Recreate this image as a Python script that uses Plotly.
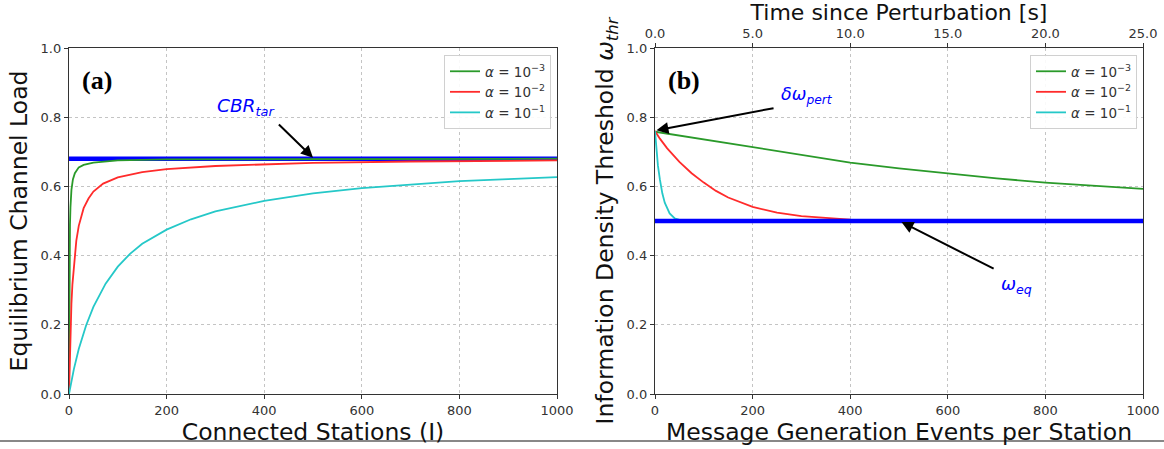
import plotly.graph_objects as go

# ---------------- data ----------------
# Panel (a): equilibrium channel load vs connected stations
a_x_green = [0, 0.5, 1, 2, 3, 5, 8, 12, 20, 30, 50, 100, 200, 1000]
a_y_green = [0.0, 0.26, 0.38, 0.49, 0.54, 0.59, 0.62, 0.638, 0.655, 0.662, 0.669, 0.675, 0.678, 0.68]

a_x_red = [0, 1, 2, 3, 5, 7, 10, 15, 20, 30, 40, 50, 70, 100, 150, 200, 300, 400, 500, 700, 1000]
a_y_red = [0.0, 0.075, 0.136, 0.186, 0.262, 0.317, 0.375, 0.443, 0.486, 0.537, 0.565, 0.585, 0.608, 0.626,
           0.641, 0.65, 0.659, 0.664, 0.668, 0.672, 0.675]

a_x_cyan = [0, 5, 10, 20, 35, 50, 75, 100, 125, 150, 200, 250, 300, 400, 500, 600, 700, 800, 900, 1000]
a_y_cyan = [0.0, 0.038, 0.072, 0.13, 0.198, 0.252, 0.319, 0.368, 0.405, 0.434, 0.475, 0.505, 0.528, 0.558,
            0.58, 0.595, 0.606, 0.615, 0.621, 0.627]

a_x_target = [0, 1000]
a_y_target = [0.68, 0.68]

# Panel (b): information density threshold vs message generation events
b_x_green = [0, 50, 100, 200, 300, 400, 500, 600, 700, 800, 900, 1000]
b_y_green = [0.758, 0.747, 0.735, 0.712, 0.69, 0.669, 0.652, 0.637, 0.623, 0.611, 0.601, 0.593]

b_x_red = [0, 10, 25, 50, 75, 100, 125, 150, 200, 250, 300, 350, 400, 450, 500, 700, 1000]
b_y_red = [0.76, 0.738, 0.71, 0.671, 0.638, 0.611, 0.587, 0.568, 0.541, 0.524, 0.514, 0.508, 0.504, 0.502,
           0.501, 0.5, 0.5]

b_x_cyan = [0, 3, 6, 10, 15, 20, 25, 30, 40, 50, 70, 1000]
b_y_cyan = [0.76, 0.70, 0.66, 0.62, 0.58, 0.553, 0.535, 0.522, 0.508, 0.503, 0.5, 0.5]

b_x_eq = [0, 1000]
b_y_eq = [0.5, 0.5]

time_range = [0, 25]
time_ticks = [0, 5, 10, 15, 20, 25]
x_ticks = [0, 200, 400, 600, 800, 1000]
y_ticks = [0, 0.2, 0.4, 0.6, 0.8, 1.0]
series_names = ["<i>α</i> = 10<sup>−3</sup>", "<i>α</i> = 10<sup>−2</sup>", "<i>α</i> = 10<sup>−1</sup>"]

# ---------------- styling ----------------
GREEN = "#2a9a2a"
RED = "#ff2b2b"
CYAN = "#25c8c8"
BLUE = "#0000ff"
FONT = "DejaVu Sans"
W, H = 1164, 449

def px_x(p):
    return p / W

def px_y(p):
    return (H - p) / H

ydom = [px_y(394), px_y(48)]
xdom_a = [px_x(69), px_x(557)]
xdom_b = [px_x(655), px_x(1143)]

fig = go.Figure()

def line(x, y, color, name, xa, ya, legend, show, width=1.8):
    fig.add_trace(go.Scatter(x=x, y=y, mode="lines", name=name,
                             line=dict(color=color, width=width),
                             xaxis=xa, yaxis=ya, legend=legend, showlegend=show))

fig.add_trace(go.Scatter(x=a_x_target, y=a_y_target, mode="lines", line=dict(color=BLUE, width=4.5),
                         xaxis="x", yaxis="y", showlegend=False))
line(a_x_green, a_y_green, GREEN, series_names[0], "x", "y", "legend", True)
line(a_x_red, a_y_red, RED, series_names[1], "x", "y", "legend", True)
line(a_x_cyan, a_y_cyan, CYAN, series_names[2], "x", "y", "legend", True)

line(b_x_green, b_y_green, GREEN, series_names[0], "x2", "y2", "legend2", True)
line(b_x_red, b_y_red, RED, series_names[1], "x2", "y2", "legend2", True)
line(b_x_cyan, b_y_cyan, CYAN, series_names[2], "x2", "y2", "legend2", True)
fig.add_trace(go.Scatter(x=b_x_eq, y=b_y_eq, mode="lines", line=dict(color=BLUE, width=4.5),
                         xaxis="x2", yaxis="y2", showlegend=False))
# invisible trace to carry top time axis
fig.add_trace(go.Scatter(x=time_range, y=[None, None], mode="lines", xaxis="x3", yaxis="y2",
                         showlegend=False, hoverinfo="skip"))

tickfont = dict(family=FONT, size=13, color="#333333")
titlefont = dict(family=FONT, size=23.5, color="#111111")
common_ax = dict(showline=True, linecolor="#333333", linewidth=1.3, mirror=True,
                 ticks="outside", ticklen=4, tickcolor="#333333", tickfont=tickfont,
                 showgrid=True, gridcolor="#c4c4c4", griddash="dot", gridwidth=1,
                 zeroline=False, automargin=False)

legend_style = dict(bgcolor="rgba(255,255,255,0.9)", bordercolor="#d0d0d0", borderwidth=1,
                    font=dict(family=FONT, size=13.5, color="#333333"), tracegroupgap=2, itemwidth=30)

fig.update_layout(
    width=W, height=H,
    margin=dict(l=0, r=0, t=0, b=0),
    paper_bgcolor="white", plot_bgcolor="white",
    font=dict(family=FONT),
    xaxis=dict(domain=xdom_a, anchor="y", range=[0, 1000], tickvals=x_ticks,
               title=dict(text="Connected Stations (I)", font=titlefont, standoff=2), **common_ax),
    yaxis=dict(domain=ydom, anchor="x", range=[0, 1], tickvals=y_ticks, tickformat=".1f",
               title=dict(text="Equilibrium Channel Load", font=titlefont, standoff=6), **common_ax),
    xaxis2=dict(domain=xdom_b, anchor="y2", range=[0, 1000], tickvals=x_ticks,
                title=dict(text="Message Generation Events per Station", font=titlefont, standoff=2), **common_ax),
    yaxis2=dict(domain=ydom, anchor="x2", range=[0, 1], tickvals=y_ticks, tickformat=".1f",
                title=dict(text="Information Density Threshold <i>ω</i><sub><i>thr</i></sub>", font=titlefont,
                           standoff=6),
                **common_ax),
    xaxis3=dict(overlaying="x2", anchor="y2", side="top", range=time_range,
                tickvals=time_ticks, tickformat=".1f",
                ticks="outside", ticklen=4, tickcolor="#333333", tickfont=tickfont,
                showgrid=False, zeroline=False, showline=False, automargin=False,
                title=dict(text="Time since Perturbation [s]", font=dict(family=FONT, size=22, color="#111111"),
                           standoff=1)),
    legend=dict(x=px_x(551), xanchor="right", y=px_y(55), yanchor="top", **legend_style),
    legend2=dict(x=px_x(1137), xanchor="right", y=px_y(55), yanchor="top", **legend_style),
)

annots = [
    dict(x=0.022, y=0.955, xref="x domain", yref="y domain", text="<b>(a)</b>", showarrow=False,
         xanchor="left", yanchor="top", font=dict(family="Liberation Serif", size=26, color="black")),
    dict(x=0.022, y=0.955, xref="x2 domain", yref="y2 domain", text="<b>(b)</b>", showarrow=False,
         xanchor="left", yanchor="top", font=dict(family="Liberation Serif", size=26, color="black")),
    # CBR_tar
    dict(x=500, y=0.683, xref="x", yref="y", ax=427, ay=0.783, axref="x", ayref="y",
         showarrow=True, arrowhead=2, arrowsize=1.2, arrowwidth=2, arrowcolor="black", text=""),
    dict(x=362, y=0.83, xref="x", yref="y", text="<i>CBR</i><sub><i>tar</i></sub>", showarrow=False,
         font=dict(family=FONT, size=18.5, color=BLUE)),
    # delta omega pert
    dict(x=3, y=0.762, xref="x2", yref="y2", ax=246, ay=0.827, axref="x2", ayref="y2",
         showarrow=True, arrowhead=2, arrowsize=1.2, arrowwidth=2, arrowcolor="black", text=""),
    dict(x=312, y=0.862, xref="x2", yref="y2", text="<i>δω</i><sub><i>pert</i></sub>", showarrow=False,
         font=dict(family=FONT, size=17.5, color=BLUE)),
    # omega eq
    dict(x=505, y=0.497, xref="x2", yref="y2", ax=697, ay=0.36, axref="x2", ayref="y2",
         showarrow=True, arrowhead=2, arrowsize=1.2, arrowwidth=2, arrowcolor="black", text=""),
    dict(x=740, y=0.315, xref="x2", yref="y2", text="<i>ω</i><sub><i>eq</i></sub>", showarrow=False,
         font=dict(family=FONT, size=18, color=BLUE)),
]
fig.update_layout(annotations=annots)

fig.add_shape(type="line", xref="paper", yref="paper", x0=0, x1=1, y0=px_y(441), y1=px_y(441),
              line=dict(color="#888888", width=2))

fig.write_html("out.html")
